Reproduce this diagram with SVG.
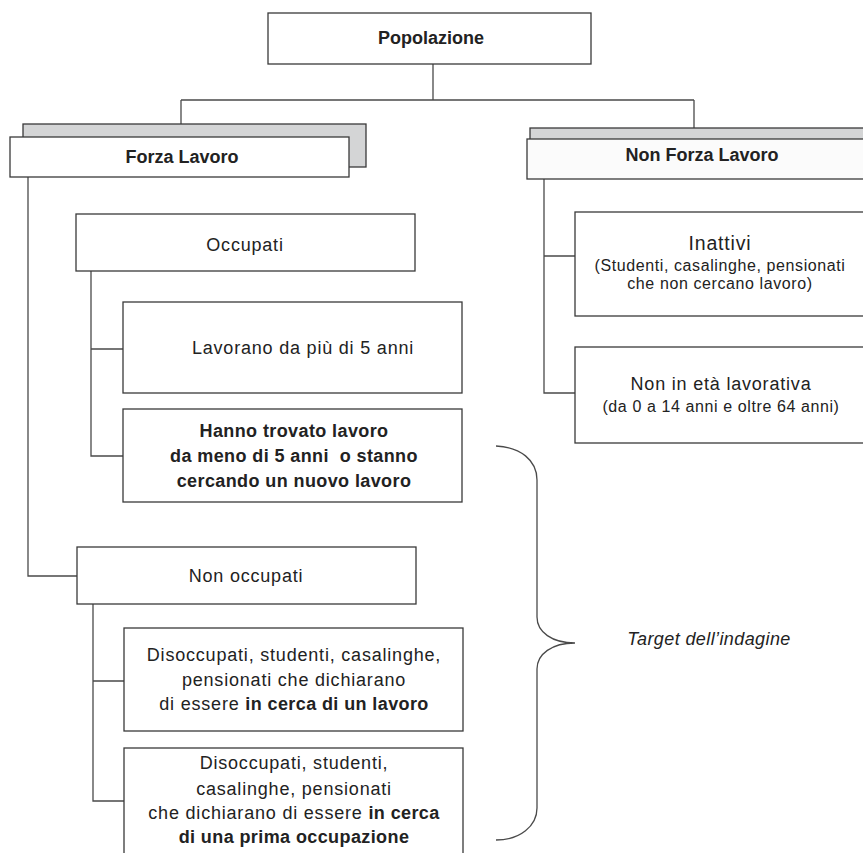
<svg xmlns="http://www.w3.org/2000/svg" width="863" height="853" viewBox="0 0 863 853">
<style>
.box{fill:#fff;stroke:#3a3a3a;stroke-width:1.3}
.sh{fill:#d4d5d6;stroke:#3a3a3a;stroke-width:1.3}
.ln{fill:none;stroke:#4a4a4a;stroke-width:1.3}
text{font-family:"Liberation Sans",Arial,sans-serif;fill:#222;text-anchor:middle}
.t{font-size:18px;letter-spacing:0.8px}
.s{font-size:16px;letter-spacing:0.6px}
.b{font-size:18px;font-weight:bold}
.bb{font-weight:bold;letter-spacing:0.4px}
.i{font-size:18px;font-style:italic;letter-spacing:0.4px}
</style>
<rect width="863" height="853" fill="#fff"/>
<g id="connectors">
<path class="ln" d="M433,64V100M181,100H694M181,100V137M694,100V139"/>
<path class="ln" d="M28,177V576H77"/>
<path class="ln" d="M91,271V456H123M91,349H123"/>
<path class="ln" d="M93,604V801H124M93,681H124"/>
<path class="ln" d="M544,179V393H575M544,256H575"/>
<path class="ln" d="M496,446C520,447 537,460 537,480L537,617C537,632 552,643 575,643C552,643 537,654 537,669L537,808C537,826 520,840 496,840"/>
</g>
<g id="popolazione">
<rect class="box" x="268" y="13" width="323" height="51"/>
<text class="b" x="431" y="44">Popolazione</text>
</g>
<g id="forza-lavoro">
<rect class="sh" x="23" y="124" width="343" height="43"/>
<rect class="box" x="10" y="137" width="339" height="40"/>
<text class="b" x="182" y="163">Forza Lavoro</text>
</g>
<g id="non-forza-lavoro">
<rect class="sh" x="530" y="128" width="345" height="40"/>
<rect class="box" x="527" y="139" width="350" height="40" style="fill:#fbfbfb"/>
<text class="b" x="702" y="161">Non Forza Lavoro</text>
</g>
<g id="occupati">
<rect class="box" x="76" y="214" width="339" height="57"/>
<text class="t" x="245" y="251">Occupati</text>
</g>
<g id="lavorano">
<rect class="box" x="123" y="302" width="339" height="91"/>
<text class="t" x="303" y="354">Lavorano da più di 5 anni</text>
</g>
<g id="hanno-trovato">
<rect class="box" x="123" y="409" width="339" height="93"/>
<text class="b bb" x="294" y="437">Hanno trovato lavoro</text>
<text class="b bb" x="294" y="462">da meno di 5 anni&#160; o stanno</text>
<text class="b bb" x="294" y="487">cercando un nuovo lavoro</text>
</g>
<g id="non-occupati">
<rect class="box" x="77" y="547" width="339" height="57"/>
<text class="t" x="246" y="582">Non occupati</text>
</g>
<g id="in-cerca-lavoro">
<rect class="box" x="124" y="628" width="339" height="103"/>
<text class="t" x="294" y="661">Disoccupati, studenti, casalinghe,</text>
<text class="t" x="294" y="686">pensionati che dichiarano</text>
<text class="t" x="294" y="710">di essere <tspan class="bb">in cerca di un lavoro</tspan></text>
</g>
<g id="prima-occupazione">
<rect class="box" x="124" y="748" width="339" height="120"/>
<text class="t" x="294" y="769">Disoccupati, studenti,</text>
<text class="t" x="294" y="795">casalinghe, pensionati</text>
<text class="t" x="294" y="819">che dichiarano di essere <tspan class="bb">in cerca</tspan></text>
<text class="b bb" x="294" y="843">di una prima occupazione</text>
</g>
<g id="inattivi">
<rect class="box" x="575" y="212" width="300" height="104"/>
<text class="t" x="720" y="250" style="font-size:19.5px">Inattivi</text>
<text class="s" x="720" y="271">(Studenti, casalinghe, pensionati</text>
<text class="s" x="720" y="289">che non cercano lavoro)</text>
</g>
<g id="non-eta-lavorativa">
<rect class="box" x="575" y="347" width="300" height="96"/>
<text class="t" x="721" y="390">Non in età lavorativa</text>
<text class="s" x="721" y="412">(da 0 a 14 anni e oltre 64 anni)</text>
</g>
<g id="target">
<text class="i" x="709" y="645">Target dell’indagine</text>
</g>
</svg>
